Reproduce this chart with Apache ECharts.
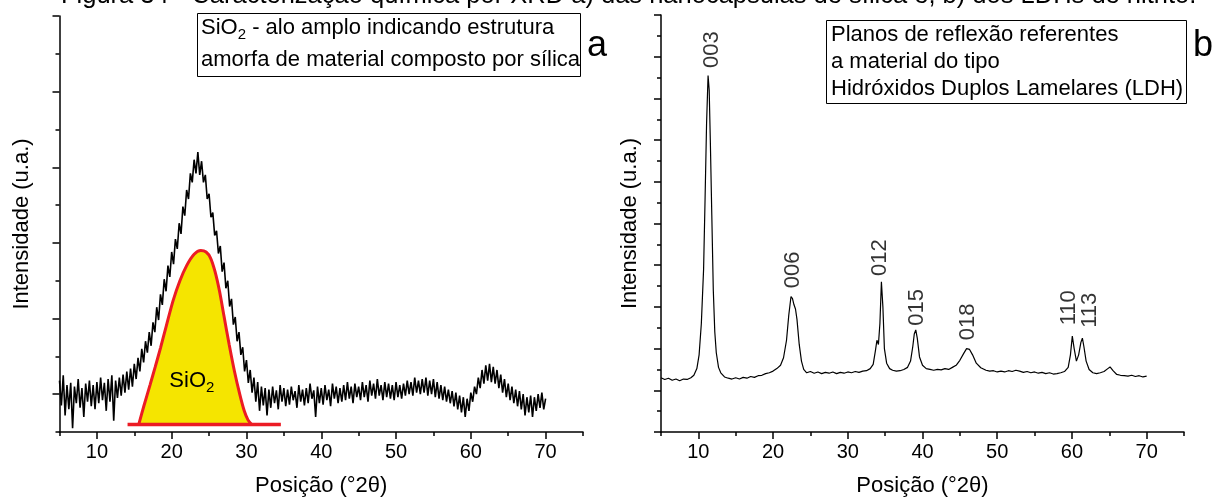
<!DOCTYPE html>
<html><head><meta charset="utf-8">
<script src="https://cdn.jsdelivr.net/npm/echarts@6/dist/echarts.min.js"></script>
<style>html,body{margin:0;padding:0;background:#fff}#c{width:1215px;height:502px}</style>
</head><body><div id="c"></div>
<script>
const FONT = '"Liberation Sans", Arial, sans-serif';

// ---- tick labels ----
const xTickLabels = ['5','10','15','20','25','30','35','40','45','50','55','60','65','70','75'];
const leftYTicks = ['-0.5','0','0.5','1','1.5','2','2.5','3','3.5','4','4.5','5'];
const rightYTicks = ['0','0.5','1','1.5','2','2.5','3','3.5','4','4.5','5','5.5','6','6.5','7','7.5','8','8.5','9','9.5','10'];

// ---- (a) silica XRD pattern [2theta, intensity a.u.] ----
const silicaPattern = [
[5.00,0.18],[5.25,-0.15],[5.50,0.25],[5.75,-0.28],[6.00,0.12],[6.25,-0.20],[6.50,0.15],[6.75,-0.45],[7.00,0.10],[7.25,-0.12],
[7.50,0.20],[7.75,-0.18],[8.00,0.08],[8.25,-0.30],[8.50,0.14],[8.75,-0.10],[9.00,0.18],[9.25,-0.16],[9.50,0.12],[9.75,-0.20],[10.00,0.16],
[10.25,-0.12],[10.50,0.22],[10.75,-0.08],[11.00,0.15],[11.25,-0.22],[11.50,0.20],[11.75,-0.10],[12.00,0.25],[12.25,-0.35],[12.50,0.18],
[12.75,-0.05],[13.00,0.22],[13.25,-0.02],[13.50,0.26],[13.75,0.02],[14.00,0.30],[14.25,0.06],[14.50,0.34],[14.75,0.10],[15.00,0.40],
[15.25,0.20],[15.50,0.48],[15.75,0.30],[16.00,0.60],[16.25,0.42],[16.50,0.70],[16.75,0.55],[17.00,0.82],[17.25,0.64],[17.50,0.95],
[17.75,0.82],[18.00,1.15],[18.25,0.98],[18.50,1.32],[18.75,1.18],[19.00,1.52],[19.25,1.36],[19.50,1.70],[19.75,1.55],[20.00,1.88],
[20.25,1.72],[20.50,2.05],[20.75,1.92],[21.00,2.26],[21.25,2.12],[21.50,2.48],[21.75,2.36],[22.00,2.70],[22.25,2.58],[22.50,2.92],
[22.75,2.80],[23.00,3.10],[23.25,2.92],[23.50,3.20],[23.75,2.90],[24.00,3.08],[24.25,2.80],[24.50,2.90],[24.75,2.58],[25.00,2.65],
[25.25,2.34],[25.50,2.40],[25.75,2.10],[26.00,2.16],[26.25,1.86],[26.50,1.96],[26.75,1.62],[27.00,1.74],[27.25,1.40],[27.50,1.50],
[27.75,1.16],[28.00,1.26],[28.25,0.92],[28.50,1.02],[28.75,0.70],[29.00,0.82],[29.25,0.52],[29.50,0.62],[29.75,0.30],[30.00,0.45],
[30.25,0.15],[30.50,0.32],[30.75,0.02],[31.00,0.22],[31.25,-0.10],[31.50,0.16],[31.75,-0.22],[32.00,0.10],[32.25,-0.15],[32.50,0.08],
[32.75,-0.28],[33.00,0.06],[33.25,-0.18],[33.50,0.10],[33.75,-0.12],[34.00,0.05],[34.25,-0.20],[34.50,0.12],[34.75,-0.10],[35.00,0.08],
[35.25,-0.16],[35.50,0.06],[35.75,-0.14],[36.00,0.10],[36.25,-0.08],[36.50,0.04],[36.75,-0.18],[37.00,0.12],[37.25,-0.10],[37.50,0.06],
[37.75,-0.15],[38.00,0.08],[38.25,-0.12],[38.50,0.14],[38.75,-0.06],[39.00,0.05],[39.25,-0.30],[39.50,0.10],[39.75,-0.12],[40.00,0.08],
[40.25,-0.14],[40.50,0.12],[40.75,-0.08],[41.00,0.06],[41.25,-0.16],[41.50,0.14],[41.75,-0.06],[42.00,0.10],[42.25,-0.12],[42.50,0.08],
[42.75,-0.10],[43.00,0.12],[43.25,-0.08],[43.50,0.16],[43.75,-0.06],[44.00,0.10],[44.25,-0.12],[44.50,0.14],[44.75,-0.04],[45.00,0.10],
[45.25,-0.08],[45.50,0.16],[45.75,-0.04],[46.00,0.12],[46.25,-0.10],[46.50,0.18],[46.75,-0.02],[47.00,0.14],[47.25,-0.06],[47.50,0.20],
[47.75,-0.02],[48.00,0.12],[48.25,-0.08],[48.50,0.16],[48.75,-0.04],[49.00,0.14],[49.25,-0.06],[49.50,0.12],[49.75,-0.08],[50.00,0.16],
[50.25,-0.04],[50.50,0.12],[50.75,-0.06],[51.00,0.14],[51.25,-0.02],[51.50,0.18],[51.75,0.00],[52.00,0.16],[52.25,-0.02],[52.50,0.22],
[52.75,0.02],[53.00,0.18],[53.25,0.00],[53.50,0.20],[53.75,0.02],[54.00,0.22],[54.25,-0.02],[54.50,0.18],[54.75,0.00],[55.00,0.20],
[55.25,-0.04],[55.50,0.16],[55.75,-0.06],[56.00,0.12],[56.25,-0.08],[56.50,0.10],[56.75,-0.10],[57.00,0.06],[57.25,-0.12],[57.50,0.04],
[57.75,-0.16],[58.00,0.02],[58.25,-0.20],[58.50,-0.02],[58.75,-0.24],[59.00,-0.04],[59.25,-0.30],[59.50,-0.06],[59.75,-0.22],[60.00,0.02],
[60.25,-0.10],[60.50,0.10],[60.75,0.00],[61.00,0.22],[61.25,0.08],[61.50,0.32],[61.75,0.14],[62.00,0.38],[62.25,0.18],[62.50,0.40],
[62.75,0.16],[63.00,0.36],[63.25,0.14],[63.50,0.32],[63.75,0.08],[64.00,0.26],[64.25,0.02],[64.50,0.20],[64.75,-0.04],[65.00,0.14],
[65.25,-0.08],[65.50,0.10],[65.75,-0.12],[66.00,0.06],[66.25,-0.16],[66.50,0.04],[66.75,-0.20],[67.00,0.00],[67.25,-0.28],[67.50,-0.04],
[67.75,-0.24],[68.00,-0.02],[68.25,-0.30],[68.50,-0.04],[68.75,-0.22],[69.00,0.00],[69.25,-0.18],[69.50,0.02],[69.75,-0.20],[70.00,-0.06]
];

// ---- (a) SiO2 amorphous halo (schematic) ----
const sio2Halo = [
[15.6,-0.40],[16.3,-0.15],[17.1,0.12],[17.8,0.36],[18.5,0.61],[19.3,0.91],[20.2,1.24],[21.1,1.50],[22.0,1.70],[23.0,1.85],
[23.9,1.90],[24.6,1.88],[25.2,1.80],[25.8,1.62],[26.4,1.36],[27.0,1.03],[27.7,0.65],[28.4,0.30],[29.1,0.00],[29.7,-0.22],
[30.2,-0.34],[30.7,-0.40]
];
const sio2Baseline = [[14.1,-0.40],[34.6,-0.40]];

// ---- (b) LDH XRD pattern ----
const ldhPattern = [
[5.0,1.30],[5.5,1.26],[6.0,1.29],[6.5,1.24],[7.0,1.27],[7.5,1.23],[8.0,1.27],[8.5,1.26],[9.0,1.30],[9.4,1.36],[9.8,1.52],
[10.1,1.85],[10.4,2.6],[10.7,3.9],[10.9,5.6],[11.1,7.4],[11.3,8.55],[11.45,8.2],[11.6,7.0],[11.8,5.2],[12.0,3.4],[12.2,2.4],
[12.4,1.9],[12.7,1.55],[13.0,1.42],[13.5,1.32],[14.0,1.29],[14.5,1.27],[15.0,1.30],[15.5,1.27],[16.0,1.31],[16.5,1.29],[17.0,1.33],
[17.5,1.31],[18.0,1.35],[18.5,1.36],[19.0,1.40],[19.5,1.42],[20.0,1.46],[20.5,1.52],[21.0,1.60],[21.4,1.78],[21.8,2.2],[22.1,2.8],
[22.4,3.25],[22.6,3.2],[22.8,3.05],[23.0,2.95],[23.2,2.7],[23.5,2.1],[23.8,1.7],[24.1,1.5],[24.5,1.42],[25.0,1.45],[25.5,1.41],
[26.0,1.44],[26.5,1.40],[27.0,1.43],[27.5,1.41],[28.0,1.44],[28.5,1.40],[29.0,1.43],[29.5,1.41],[30.0,1.44],[30.5,1.42],[31.0,1.45],
[31.5,1.43],[32.0,1.46],[32.5,1.47],[33.0,1.52],[33.4,1.62],[33.7,1.95],[33.9,2.2],[34.1,2.1],[34.3,2.6],[34.5,3.6],[34.7,3.0],
[34.9,2.0],[35.2,1.65],[35.6,1.52],[36.0,1.48],[36.5,1.46],[37.0,1.47],[37.5,1.50],[38.0,1.55],[38.4,1.70],[38.7,2.05],[38.9,2.35],
[39.1,2.45],[39.3,2.25],[39.6,1.8],[40.0,1.6],[40.5,1.52],[41.0,1.50],[41.5,1.48],[42.0,1.50],[42.5,1.49],[43.0,1.52],[43.5,1.50],
[44.0,1.55],[44.5,1.60],[45.0,1.72],[45.5,1.88],[45.9,2.0],[46.3,1.98],[46.7,1.85],[47.2,1.65],[47.8,1.54],[48.5,1.48],[49.0,1.46],
[49.5,1.47],[50.0,1.44],[50.5,1.46],[51.0,1.44],[51.5,1.47],[52.0,1.45],[52.5,1.48],[53.0,1.46],[53.5,1.43],[54.0,1.45],[54.5,1.42],
[55.0,1.44],[55.5,1.41],[56.0,1.43],[56.5,1.40],[57.0,1.42],[57.5,1.39],[58.0,1.40],[58.5,1.42],[59.0,1.45],[59.5,1.55],[59.8,1.85],
[60.05,2.3],[60.3,2.0],[60.6,1.7],[60.9,1.85],[61.2,2.15],[61.4,2.25],[61.6,2.05],[61.9,1.7],[62.3,1.5],[62.8,1.42],[63.3,1.40],
[63.8,1.42],[64.3,1.45],[64.8,1.52],[65.1,1.56],[65.5,1.47],[66.0,1.38],[66.5,1.36],[67.0,1.35],[67.5,1.34],[68.0,1.36],[68.5,1.33],
[69.0,1.35],[69.5,1.32],[70.0,1.34]
];

// ---- (b) reflection plane labels ----
const ldhPlaneNames = ['003','006','012','015','018','110','113'];
const ldhPlaneTheta = [11.83,22.67,34.32,39.27,46.10,59.62,62.43];
const ldhPlaneLabelY = [9.17,3.89,4.18,2.99,2.64,2.98,2.92];

const RED = '#ec1c24', YELLOW = '#f5e500';

const chart = echarts.init(document.getElementById('c'), null, {renderer: 'canvas'});
const ctx = document.createElement('canvas').getContext('2d');
function tw(t, size){ ctx.font = size + 'px ' + FONT; return ctx.measureText(t).width; }

const axisLineStyle = {color: '#000', width: 1.5};
function valueX(grid){
  return {type:'value', gridIndex:grid, min:5, max:75, interval:5, position:'bottom',
    axisLine:{show:true, onZero:false, lineStyle:axisLineStyle},
    axisTick:{show:true, length:4, lineStyle:axisLineStyle},
    axisLabel:{fontSize:20, fontFamily:FONT, color:'#000', margin:10,
      formatter: v => (v % 10 === 0 ? String(v) : '')},
    splitLine:{show:false},
    name:'Posição (°2θ)', nameLocation:'middle', nameGap:43,
    nameTextStyle:{fontSize:22, fontFamily:FONT, color:'#000'}};
}
function catX(grid){
  return {type:'category', gridIndex:grid, data:xTickLabels, boundaryGap:false, position:'bottom',
    axisLine:{show:false, onZero:false},
    axisTick:{show:true, length:7, interval:(i)=> i % 2 === 1, lineStyle:axisLineStyle},
    axisLabel:{show:false}, splitLine:{show:false}};
}
function catY(grid, data, majorOdd){
  return {type:'category', gridIndex:grid, data:data, boundaryGap:false, position:'left',
    axisLine:{show:false, onZero:false},
    axisTick:{show:true, length:7, interval:(i)=> (i % 2 === 1) === majorOdd, lineStyle:axisLineStyle},
    axisLabel:{show:false}, splitLine:{show:false}};
}
function valueY(grid, min, max, gap){
  return {type:'value', gridIndex:grid, min:min, max:max, interval:0.5, position:'left',
    axisLine:{show:true, onZero:false, lineStyle:axisLineStyle},
    axisTick:{show:true, length:4, lineStyle:axisLineStyle},
    axisLabel:{show:false}, splitLine:{show:false},
    name:'Intensidade (u.a.)', nameLocation:'middle', nameGap:gap, nameRotate:90,
    nameTextStyle:{fontSize:22, fontFamily:FONT, color:'#000'}};
}

const textStyle = (t, x, y, size, extra) => Object.assign({type:'text', x:x, y:y,
  style:{text:t, fontSize:size, fontFamily:FONT, fill:'#000', align:'left', verticalAlign:'middle'}}, extra||{});

const g = [];
// cropped figure caption at the very top
g.push({type:'text', x:61, y:-17, style:{text:'Figura 34 - Caracterização química por XRD a) das nanocápsulas de sílica e, b) dos LDHs de nitrito.', fontSize:25.5, fontFamily:FONT, fill:'#000', align:'left', verticalAlign:'top'}});
// box a
g.push({type:'rect', shape:{x:197.5, y:13.5, width:383, height:63}, style:{fill:'#fff', stroke:'#000', lineWidth:1}, z:10});
let xx = 201;
g.push(Object.assign(textStyle('SiO', xx, 28, 22), {z:11})); xx += tw('SiO', 22);
g.push(Object.assign(textStyle('2', xx, 35, 15), {z:11})); xx += tw('2', 15);
g.push(Object.assign(textStyle(' - alo amplo indicando estrutura', xx, 28, 22), {z:11}));
g.push(Object.assign(textStyle('amorfa de material composto por sílica', 201, 60, 22), {z:11}));
g.push(Object.assign(textStyle('a', 597, 46, 36, null), {z:11}));
g[g.length-1].style.align = 'center';
// box b
g.push({type:'rect', shape:{x:826.5, y:20.5, width:360, height:83}, style:{fill:'#fff', stroke:'#000', lineWidth:1}, z:10});
g.push(Object.assign(textStyle('Planos de reflexão referentes', 831, 35, 22), {z:11}));
g.push(Object.assign(textStyle('a material do tipo', 831, 62, 22), {z:11}));
g.push(Object.assign(textStyle('Hidróxidos Duplos Lamelares (LDH)', 831, 89, 22), {z:11}));
g.push(Object.assign(textStyle('b', 1203, 46, 36), {z:11}));
g[g.length-1].style.align = 'center';

const option = {
  animation:false,
  backgroundColor:'#fff',
  grid:[
    {left:59.5, top:16, width:523.5, height:421.5, containLabel:false},
    {left:661, top:15, width:523, height:422.5, containLabel:false}
  ],
  xAxis:[valueX(0), catX(0), valueX(1), catX(1)],
  yAxis:[valueY(0,-0.5,5,27), catY(0,leftYTicks,true), valueY(1,0,10,20), catY(1,rightYTicks,false)],
  series:[
    {type:'line', xAxisIndex:0, yAxisIndex:0, data:silicaPattern, showSymbol:false, symbol:'none',
     lineStyle:{color:'#000', width:1.6}, z:2},
    {type:'line', xAxisIndex:0, yAxisIndex:0, data:sio2Halo, showSymbol:false, symbol:'none', smooth:0.3,
     lineStyle:{color:RED, width:3}, areaStyle:{color:YELLOW, opacity:1, origin:-0.40}, z:3},
    {type:'line', xAxisIndex:0, yAxisIndex:0, data:sio2Baseline, showSymbol:false, symbol:'none',
     lineStyle:{color:RED, width:3.5}, z:4},
    {type:'line', xAxisIndex:2, yAxisIndex:2, data:ldhPattern, showSymbol:false, symbol:'none',
     lineStyle:{color:'#000', width:1.2}, z:2},
    {type:'scatter', xAxisIndex:2, yAxisIndex:2, symbolSize:2, itemStyle:{color:'rgba(0,0,0,0)'},
     data: ldhPlaneNames.map((n,i)=>({name:n, value:[ldhPlaneTheta[i], ldhPlaneLabelY[i]]})),
     label:{show:true, formatter:'{b}', position:'inside', rotate:90, align:'center', verticalAlign:'middle',
            fontSize:22, fontFamily:FONT, color:'#000'},
     labelLayout:{hideOverlap:false}, z:5}
  ],
  graphic: g
};
chart.setOption(option);
// SiO2 label inside the yellow halo, anchored to data coordinates
const p = chart.convertToPixel({xAxisIndex:0, yAxisIndex:0}, [22.7, 0.18]);
const w1 = tw('SiO', 22), w2 = tw('2', 15);
const x0 = p[0] - (w1 + w2) / 2;
chart.setOption({graphic: g.concat([
  Object.assign(textStyle('SiO', x0, p[1], 22), {z:12}),
  Object.assign(textStyle('2', x0 + w1, p[1] + 7, 15), {z:12})
])});
</script></body></html>
